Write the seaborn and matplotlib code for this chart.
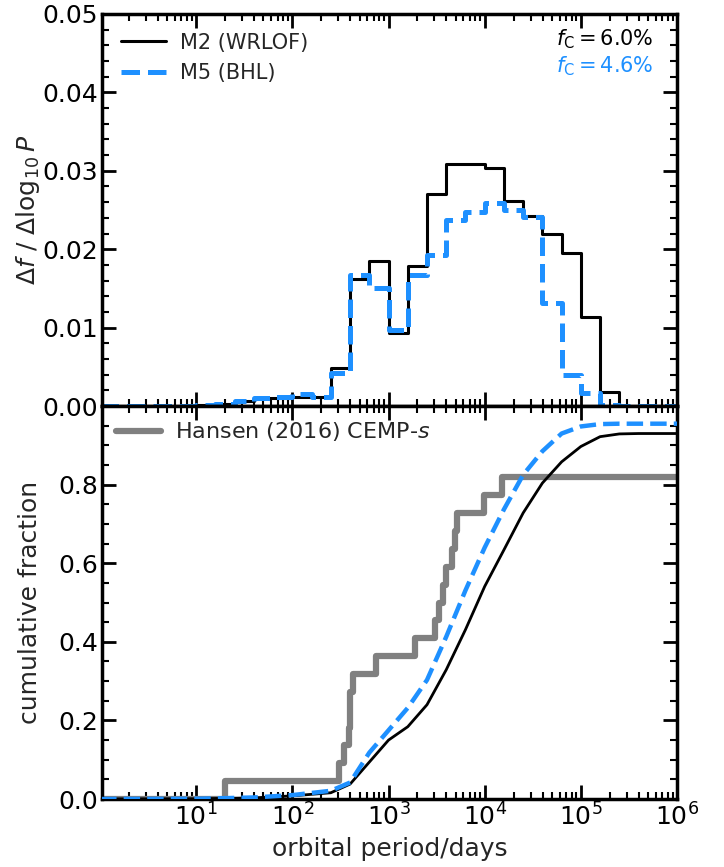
import numpy as np
import pandas as pd
import matplotlib
matplotlib.use("Agg")
import matplotlib.pyplot as plt
from matplotlib.ticker import MultipleLocator, FixedLocator, NullFormatter, FormatStrFormatter
import seaborn as sns

# ---- data -------------------------------------------------------------
# log10(P/days) bin edges of the period distribution
logp_edges = [0.0, 0.2, 0.4, 0.6, 0.8, 1.0, 1.2, 1.4, 1.6, 1.8, 2.0,
              2.2, 2.4, 2.6, 2.8, 3.0, 3.2, 3.4, 3.6, 3.8, 4.0,
              4.2, 4.4, 4.6, 4.8, 5.0, 5.2, 5.4, 5.6, 5.8, 6.0]

# df / dlog10 P per bin
m2_wrlof = [0.0, 0.0, 0.0, 0.0, 0.0, 0.0001, 0.0003, 0.0006, 0.0010, 0.0010,
            0.0012, 0.0012, 0.0048, 0.0162, 0.0185, 0.0093, 0.0178, 0.0271,
            0.0309, 0.0309, 0.0303, 0.0262, 0.0242, 0.0220, 0.0195, 0.0113,
            0.0018, 0.0, 0.0, 0.0]
m5_bhl = [0.0, 0.0, 0.0, 0.0, 0.0, 0.0001, 0.0003, 0.0007, 0.0010, 0.0011,
          0.0015, 0.0011, 0.0042, 0.0167, 0.0150, 0.0097, 0.0167, 0.0193,
          0.0237, 0.0248, 0.0259, 0.0250, 0.0241, 0.0131, 0.0040, 0.0016,
          0.0001, 0.0, 0.0, 0.0]

# cumulative fractions of the two models
cum_logp = [0.0, 1.0, 1.6, 2.0, 2.4, 2.6, 2.8, 3.0, 3.2, 3.4, 3.6, 3.8,
            4.0, 4.2, 4.4, 4.6, 4.8, 5.0, 5.2, 5.4, 5.6, 6.0]
cum_m2 = [0.0, 0.0005, 0.003, 0.008, 0.016, 0.038, 0.094, 0.150, 0.184,
          0.240, 0.329, 0.431, 0.541, 0.634, 0.728, 0.804, 0.858, 0.897,
          0.922, 0.929, 0.930, 0.930]
cum_m5 = [0.0, 0.0005, 0.004, 0.010, 0.021, 0.042, 0.118, 0.175, 0.232,
          0.303, 0.413, 0.531, 0.640, 0.737, 0.825, 0.885, 0.930, 0.948,
          0.954, 0.955, 0.955, 0.955]

# Hansen et al. (2016) CEMP-s binary periods (days) and sample size
hansen_periods = [20, 302, 347, 385, 394, 398, 427, 741, 1905, 3020, 3311,
                  3715, 3981, 4571, 4898, 5129, 9772, 15136]
hansen_nstars = 22

fc_labels = ["$f_{\\rm C} = 6.0\\%$", "$f_{\\rm C} = 4.6\\%$"]

# ---- style ------------------------------------------------------------
sns.set_theme(style="ticks")
plt.rcParams.update({
    "font.family": ["DejaVu Sans"],
    "mathtext.fontset": "dejavusans",
    "axes.linewidth": 2.5,
    "xtick.direction": "in", "ytick.direction": "in",
    "xtick.top": True, "ytick.right": True,
    "xtick.major.size": 10, "ytick.major.size": 10,
    "xtick.minor.size": 5, "ytick.minor.size": 5,
    "xtick.major.width": 2, "ytick.major.width": 2,
    "xtick.minor.width": 1.5, "ytick.minor.width": 1.5,
    "xtick.labelsize": 18, "ytick.labelsize": 18,
    "axes.labelsize": 18,
    "axes.edgecolor": "black",
    "xtick.color": "black", "ytick.color": "black",
})

BLUE = "#1E90FF"
GREY = "#808080"

fig = plt.figure(figsize=(7.24, 8.67), dpi=100)
ax1 = fig.add_axes([0.1409, 0.5317, 0.7942, 0.4522])
ax2 = fig.add_axes([0.1409, 0.0784, 0.7942, 0.4533])

# ---- top: differential period distribution ----------------------------
period_edges = 10 ** np.array(logp_edges)
hist = pd.DataFrame({
    "P": period_edges,
    "m2": m2_wrlof + [m2_wrlof[-1]],
    "m5": m5_bhl + [m5_bhl[-1]],
})
sns.lineplot(data=hist, x="P", y="m2", drawstyle="steps-post", color="black",
             lw=2.2, ax=ax1, label="M2 (WRLOF)")
sns.lineplot(data=hist, x="P", y="m5", drawstyle="steps-post", color=BLUE,
             lw=3.6, ls="--", ax=ax1, label="M5 (BHL)")

ax1.set_ylim(0, 0.05)
ax1.yaxis.set_major_locator(MultipleLocator(0.01))
ax1.yaxis.set_minor_locator(MultipleLocator(0.002))
ax1.yaxis.set_major_formatter(FormatStrFormatter("%.2f"))
ax1.set_xlabel("")
ax1.set_ylabel(r"$\Delta f\ /\ \Delta\log_{10}P$")
ax1.legend(loc="upper left", frameon=False, fontsize=15, handlelength=2.15,
           handletextpad=0.7, borderaxespad=0.5)
ax1.text(0.96, 0.935, fc_labels[0], transform=ax1.transAxes, ha="right",
         va="center", fontsize=15, color="black")
ax1.text(0.96, 0.868, fc_labels[1], transform=ax1.transAxes, ha="right",
         va="center", fontsize=15, color=BLUE)

# ---- bottom: cumulative distributions ---------------------------------
obs_p = [1.0] + hansen_periods + [1e6]
obs_frac = [0.0] + [(i + 1) / hansen_nstars for i in range(len(hansen_periods))]
obs_frac = obs_frac + [obs_frac[-1]]
obs = pd.DataFrame({"P": obs_p, "frac": obs_frac})
sns.lineplot(data=obs, x="P", y="frac", drawstyle="steps-post", color=GREY,
             lw=4.5, ax=ax2, label="Hansen (2016) CEMP-$s$", zorder=1)

cum = pd.DataFrame({"P": 10 ** np.array(cum_logp), "m2": cum_m2, "m5": cum_m5})
sns.lineplot(data=cum, x="P", y="m2", color="black", lw=2.0, ax=ax2,
             legend=False, zorder=2)
sns.lineplot(data=cum, x="P", y="m5", color=BLUE, lw=3.2, ls="--", ax=ax2,
             legend=False, zorder=3)

ax2.set_ylim(0, 1.0)
ax2.set_yticks([0.0, 0.2, 0.4, 0.6, 0.8])
ax2.yaxis.set_minor_locator(MultipleLocator(0.05))
ax2.yaxis.set_major_formatter(FormatStrFormatter("%.1f"))
ax2.set_xlabel("orbital period/days")
ax2.set_ylabel("cumulative fraction")
ax2.legend(loc="upper left", frameon=False, fontsize=16, handlelength=2.0,
           handletextpad=0.65, borderaxespad=0.25)

major_x = [1e1, 1e2, 1e3, 1e4, 1e5, 1e6]
minor_x = [m * 10 ** e for e in range(0, 6) for m in range(2, 10)]
for ax in (ax1, ax2):
    ax.set_xscale("log")
    ax.set_xlim(10 ** 0.02, 1e6)
    ax.xaxis.set_major_locator(FixedLocator(major_x))
    ax.xaxis.set_minor_locator(FixedLocator(minor_x))
    ax.xaxis.set_minor_formatter(NullFormatter())
    ax.tick_params(which="both", top=True, right=True, direction="in")
    ax.tick_params(axis="y", pad=3)
    ax.yaxis.set_label_coords(-0.105, 0.5)
ax1.tick_params(axis="x", which="both", labelbottom=False)

fig.savefig("out.png", dpi=100)
